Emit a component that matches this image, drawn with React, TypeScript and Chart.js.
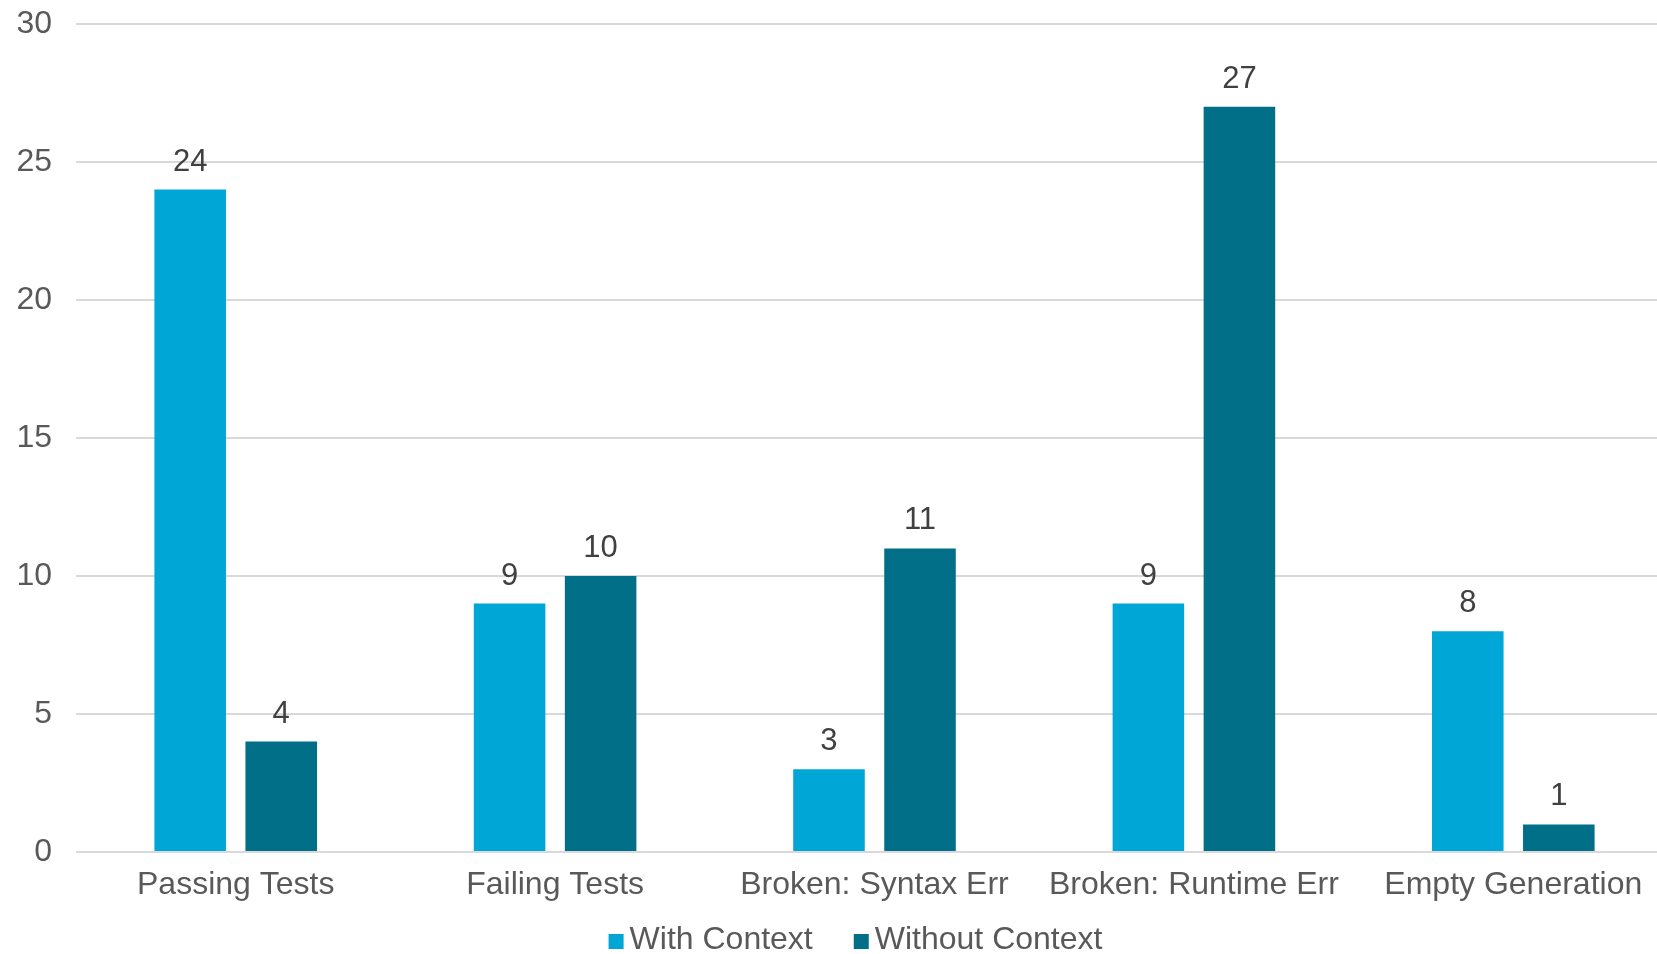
import React, { useEffect, useRef } from "react";
import { Chart, registerables } from "chart.js";

Chart.register(...registerables);

const categories = [
  "Passing Tests",
  "Failing Tests",
  "Broken: Syntax Err",
  "Broken: Runtime Err",
  "Empty Generation",
];
const withContext = [24, 9, 3, 9, 8];
const withoutContext = [4, 10, 11, 27, 1];
const seriesLabels = ["With Context", "Without Context"];
const seriesColors = ["#00A6D6", "#006F87"];
const yTicks = [0, 5, 10, 15, 20, 25, 30];

const FONT = "'Liberation Sans', Arial, Helvetica, sans-serif";

const dataLabelPlugin = {
  id: "dataLabels",
  afterDatasetsDraw(chart: any) {
    const ctx = chart.ctx;
    ctx.save();
    ctx.font = `31px ${FONT}`;
    ctx.fillStyle = "#404040";
    ctx.textAlign = "center";
    ctx.textBaseline = "alphabetic";
    chart.data.datasets.forEach((ds: any, di: number) => {
      const meta = chart.getDatasetMeta(di);
      meta.data.forEach((bar: any, i: number) => {
        ctx.fillText(String(ds.data[i]), bar.x, bar.y - 19);
      });
    });
    ctx.restore();
  },
};

const customLegendPlugin = {
  id: "customLegend",
  afterDraw(chart: any) {
    const ctx = chart.ctx;
    ctx.save();
    ctx.font = `32px ${FONT}`;
    const box = 15;
    const gap = 6;
    const itemGap = 41;
    const items = chart.data.datasets.map((ds: any) => ({
      text: ds.label,
      color: ds.backgroundColor,
      w: ctx.measureText(ds.label).width,
    }));
    const total =
      items.reduce((s: number, it: any) => s + box + gap + it.w, 0) +
      itemGap * (items.length - 1);
    let x = chart.width / 2 + 19 - total / 2;
    const baseY = chart.height - 5;
    ctx.textBaseline = "alphabetic";
    ctx.textAlign = "left";
    items.forEach((it: any) => {
      ctx.fillStyle = it.color;
      ctx.fillRect(x, baseY - box, box, box);
      x += box + gap;
      ctx.fillStyle = "#595959";
      ctx.fillText(it.text, x, baseY);
      x += it.w + itemGap;
    });
    ctx.restore();
  },
};

export default function App() {
  const ref = useRef<HTMLCanvasElement | null>(null);

  useEffect(() => {
    document.body.style.margin = "0";
    document.body.style.overflow = "hidden";
    const canvas = ref.current;
    if (!canvas) return;
    const chart = new Chart(canvas, {
      type: "bar",
      data: {
        labels: categories,
        datasets: [
          {
            label: seriesLabels[0],
            data: withContext,
            backgroundColor: seriesColors[0],
            categoryPercentage: 0.57,
            barPercentage: 0.786,
          },
          {
            label: seriesLabels[1],
            data: withoutContext,
            backgroundColor: seriesColors[1],
            categoryPercentage: 0.57,
            barPercentage: 0.786,
          },
        ],
      },
      options: {
        responsive: false,
        animation: false,
        layout: { padding: { left: 0, right: 0, top: 24, bottom: 0 } },
        plugins: {
          legend: { display: false },
          tooltip: { enabled: false },
        },
        scales: {
          x: {
            grid: { display: false, drawTicks: false },
            border: { display: false },
            ticks: {
              font: { family: FONT, size: 32 },
              color: "#595959",
              padding: 14,
              maxRotation: 0,
              autoSkip: false,
            },
            afterFit(scale: any) {
              scale.height = 102;
            },
          },
          y: {
            min: 0,
            max: 30,
            afterBuildTicks(scale: any) {
              scale.ticks = yTicks.map((v) => ({ value: v }));
            },
            grid: { color: "#D9D9D9", lineWidth: 2, drawTicks: false },
            border: { display: false },
            ticks: {
              font: { family: FONT, size: 32 },
              color: "#595959",
              padding: 24,
            },
            afterFit(scale: any) {
              scale.width = 76;
              scale.paddingTop = 0;
              scale.paddingBottom = 0;
            },
          },
        },
      },
      plugins: [dataLabelPlugin, customLegendPlugin],
    });
    return () => chart.destroy();
  }, []);

  return (
    <div style={{ width: 1657, height: 954, overflow: "hidden" }}>
      <canvas ref={ref} width={1673} height={954} style={{ display: "block" }} />
    </div>
  );
}
